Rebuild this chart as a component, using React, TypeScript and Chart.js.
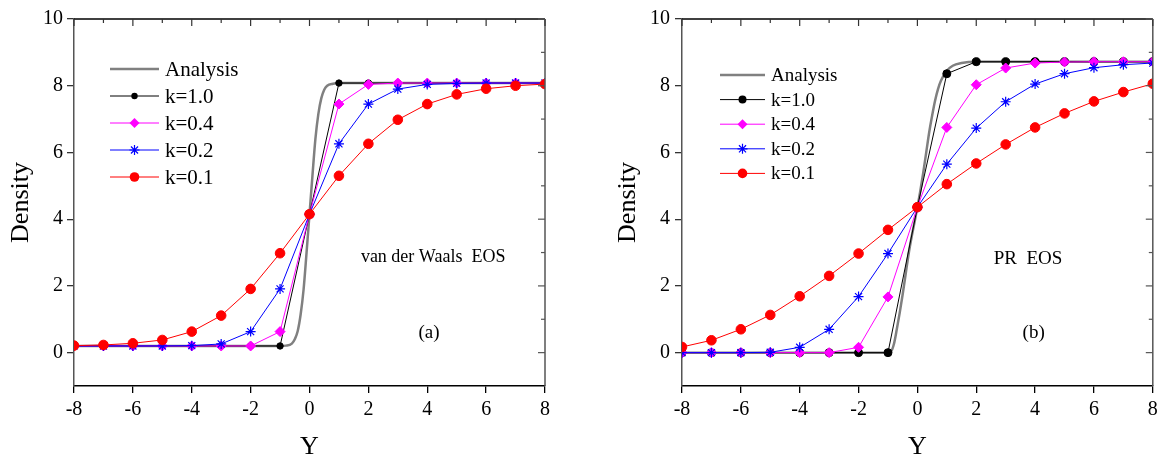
import React, { useEffect, useRef } from 'react';
import { Chart, registerables } from 'chart.js';

Chart.register(...registerables);

// ---------- data ----------
const X_TICKS = [-8, -6, -4, -2, 0, 2, 4, 6, 8];
const Y_TICKS = [0, 2, 4, 6, 8, 10];
const K_X = [-8, -7, -6, -5, -4, -3, -2, -1, 0, 1, 2, 3, 4, 5, 6, 7, 8];
const SERIES_LABELS = ['Analysis', 'k=1.0', 'k=0.4', 'k=0.2', 'k=0.1'];

// Panel (a): van der Waals EOS
const A_ANALYSIS_X = [-8, -1, -0.8, -0.6, -0.5, -0.4, -0.3, -0.2, -0.1, 0, 0.1, 0.2, 0.3, 0.4, 0.5, 0.6, 0.8, 1, 8];
const A_ANALYSIS_Y = [0.2, 0.2, 0.21, 0.27, 0.4, 0.65, 1.15, 1.9, 3.0, 4.15, 5.3, 6.4, 7.15, 7.62, 7.88, 8.0, 8.06, 8.08, 8.08];
const A_K10 = [0.2, 0.2, 0.2, 0.2, 0.2, 0.2, 0.2, 0.2, 4.15, 8.08, 8.08, 8.08, 8.08, 8.08, 8.08, 8.08, 8.08];
const A_K04 = [0.2, 0.2, 0.2, 0.2, 0.2, 0.2, 0.2, 0.63, 4.15, 7.45, 8.04, 8.08, 8.08, 8.08, 8.08, 8.08, 8.08];
const A_K02 = [0.2, 0.2, 0.2, 0.2, 0.21, 0.26, 0.63, 1.91, 4.15, 6.26, 7.45, 7.9, 8.04, 8.07, 8.08, 8.08, 8.08];
const A_K01 = [0.21, 0.23, 0.28, 0.38, 0.63, 1.11, 1.91, 2.98, 4.15, 5.3, 6.26, 6.98, 7.45, 7.74, 7.91, 8.0, 8.05];

// Panel (b): PR EOS
const B_ANALYSIS_X = [-8, -1, -0.9, -0.8, -0.7, -0.6, -0.5, -0.4, -0.3, -0.2, -0.1, 0, 0.1, 0.2, 0.3, 0.4, 0.5, 0.6, 0.7, 0.8, 1.0, 1.2, 1.5, 2, 8];
const B_ANALYSIS_Y = [0, 0, 0.03, 0.25, 0.7, 1.2, 1.75, 2.35, 2.95, 3.45, 3.9, 4.36, 4.85, 5.4, 6.0, 6.6, 7.1, 7.55, 7.9, 8.15, 8.45, 8.6, 8.68, 8.72, 8.72];
const B_K10 = [0, 0, 0, 0, 0, 0, 0, 0, 4.36, 8.36, 8.72, 8.72, 8.72, 8.72, 8.72, 8.72, 8.72];
const B_K04 = [0, 0, 0, 0, 0, 0, 0.16, 1.67, 4.36, 6.75, 8.03, 8.53, 8.68, 8.71, 8.72, 8.72, 8.72];
const B_K02 = [0, 0, 0, 0.01, 0.16, 0.7, 1.68, 2.97, 4.36, 5.65, 6.73, 7.52, 8.05, 8.36, 8.54, 8.63, 8.68];
const B_K01 = [0.17, 0.37, 0.7, 1.13, 1.69, 2.3, 2.97, 3.68, 4.36, 5.05, 5.67, 6.24, 6.75, 7.17, 7.53, 7.81, 8.06];

// ---------- styling ----------
const FONT = '"Liberation Serif", "Times New Roman", serif';

type Panel = {
  left: number;
  width: number;
  padLeft: number;
  yAxisWidth: number;
  padRight: number;
  analysisX: number[];
  analysisY: number[];
  k10: number[];
  k04: number[];
  k02: number[];
  k01: number[];
  blackRadius: number;
  legend: { x0: number; x1: number; textX: number; y0: number; step: number; size: number };
  notes: { text: string; x: number; y: number; size: number }[];
  yTickPad: number;
};

const PANELS: Panel[] = [
  {
    left: 0,
    width: 580,
    padLeft: 0,
    yAxisWidth: 74,
    padRight: 35,
    analysisX: A_ANALYSIS_X,
    analysisY: A_ANALYSIS_Y,
    k10: A_K10,
    k04: A_K04,
    k02: A_K02,
    k01: A_K01,
    blackRadius: 3.2,
    legend: { x0: 110, x1: 159, textX: 165, y0: 69, step: 27, size: 21 },
    notes: [
      { text: 'van der Waals  EOS', x: 4.2, y: 2.85, size: 18 },
      { text: '(a)', x: 4.06, y: 0.6, size: 19 },
    ],
    yTickPad: 4,
  },
  {
    left: 580,
    width: 579,
    padLeft: 27,
    yAxisWidth: 75,
    padRight: 4,
    analysisX: B_ANALYSIS_X,
    analysisY: B_ANALYSIS_Y,
    k10: B_K10,
    k04: B_K04,
    k02: B_K02,
    k01: B_K01,
    blackRadius: 4,
    legend: { x0: 140, x1: 185, textX: 191, y0: 75, step: 24.6, size: 19 },
    notes: [
      { text: 'PR  EOS', x: 3.76, y: 2.8, size: 19 },
      { text: '(b)', x: 3.95, y: 0.6, size: 19 },
    ],
    yTickPad: 5,
  },
];

function drawMarker(ctx: CanvasRenderingContext2D, style: string, x: number, y: number, r: number, color: string) {
  ctx.save();
  ctx.fillStyle = color;
  ctx.strokeStyle = color;
  ctx.lineWidth = 1.2;
  if (style === 'circle') {
    ctx.beginPath();
    ctx.arc(x, y, r, 0, Math.PI * 2);
    ctx.fill();
  } else if (style === 'rectRot') {
    ctx.beginPath();
    ctx.moveTo(x, y - r);
    ctx.lineTo(x + r, y);
    ctx.lineTo(x, y + r);
    ctx.lineTo(x - r, y);
    ctx.closePath();
    ctx.fill();
  } else if (style === 'star') {
    ctx.beginPath();
    ctx.moveTo(x - r, y);
    ctx.lineTo(x + r, y);
    ctx.moveTo(x, y - r);
    ctx.lineTo(x, y + r);
    const d = r * Math.SQRT1_2;
    ctx.moveTo(x - d, y - d);
    ctx.lineTo(x + d, y + d);
    ctx.moveTo(x - d, y + d);
    ctx.lineTo(x + d, y - d);
    ctx.stroke();
  }
  ctx.restore();
}

const decorPlugin = {
  id: 'panelDecor',
  afterDatasetsDraw(chart: any, _args: any, opts: any) {
    const cfg: Panel = opts.cfg;
    if (!cfg) return;
    const { ctx, chartArea } = chart;
    const xs = chart.scales.x;
    const ys = chart.scales.y;
    const { left, right, top, bottom } = chartArea;
    ctx.save();
    // top and right frame
    ctx.lineWidth = 1.5;
    ctx.strokeStyle = '#000';
    ctx.beginPath();
    ctx.moveTo(left, top);
    ctx.lineTo(right, top);
    ctx.stroke();
    ctx.strokeStyle = '#555';
    ctx.beginPath();
    ctx.moveTo(right, top);
    ctx.lineTo(right, bottom);
    ctx.stroke();
    // inward ticks on top
    ctx.lineWidth = 1.2;
    ctx.strokeStyle = '#333';
    for (let v = xs.min; v <= xs.max; v += 1) {
      const px = xs.getPixelForValue(v);
      const len = v % 2 === 0 ? 7 : 4;
      ctx.beginPath();
      ctx.moveTo(px, top);
      ctx.lineTo(px, top + len);
      ctx.stroke();
    }
    // inward ticks on right
    ctx.strokeStyle = '#555';
    for (let v = 0; v <= ys.max; v += 1) {
      const py = ys.getPixelForValue(v);
      const len = v % 2 === 0 ? 7 : 4;
      ctx.beginPath();
      ctx.moveTo(right, py);
      ctx.lineTo(right - len, py);
      ctx.stroke();
    }
    // notes
    ctx.fillStyle = '#000';
    ctx.textAlign = 'center';
    ctx.textBaseline = 'middle';
    for (const n of cfg.notes) {
      ctx.font = `${n.size}px ${FONT}`;
      ctx.fillText(n.text, xs.getPixelForValue(n.x), ys.getPixelForValue(n.y));
    }
    // legend
    const lg = cfg.legend;
    chart.data.datasets.forEach((ds: any, i: number) => {
      const y = lg.y0 + i * lg.step;
      ctx.strokeStyle = ds.borderColor;
      ctx.lineWidth = ds.borderWidth;
      ctx.beginPath();
      ctx.moveTo(lg.x0, y);
      ctx.lineTo(lg.x1, y);
      ctx.stroke();
      if (ds.pointRadius > 0) {
        drawMarker(ctx, ds.pointStyle, (lg.x0 + lg.x1) / 2, y, ds.pointRadius, ds.pointBackgroundColor);
      }
      ctx.fillStyle = '#000';
      ctx.textAlign = 'left';
      ctx.textBaseline = 'middle';
      ctx.font = `${lg.size}px ${FONT}`;
      ctx.fillText(ds.label, lg.textX, y + 1);
    });
    ctx.restore();
  },
};

function toPoints(xs: number[], ys: number[]) {
  return xs.map((x, i) => ({ x, y: ys[i] }));
}

function PanelChart({ cfg }: { cfg: Panel }) {
  const ref = useRef<HTMLCanvasElement>(null);
  useEffect(() => {
    const canvas = ref.current;
    if (!canvas) return;
    const mk = (label: string, data: number[], color: string, style: string, r: number, order: number) => ({
      label,
      data: toPoints(K_X, data),
      borderColor: color,
      backgroundColor: color,
      pointBackgroundColor: color,
      pointBorderColor: color,
      pointStyle: style,
      pointRadius: r,
      pointBorderWidth: style === 'star' ? 1.2 : 1,
      borderWidth: 1,
      tension: 0,
      order,
    });
    const chart = new Chart(canvas, {
      type: 'line',
      data: {
        datasets: [
          {
            label: SERIES_LABELS[0],
            data: toPoints(cfg.analysisX, cfg.analysisY),
            borderColor: '#808080',
            backgroundColor: '#808080',
            pointBackgroundColor: '#808080',
            borderWidth: 2.5,
            pointRadius: 0,
            cubicInterpolationMode: 'monotone',
            order: 5,
          } as any,
          mk(SERIES_LABELS[1], cfg.k10, '#000000', 'circle', cfg.blackRadius, 4),
          mk(SERIES_LABELS[2], cfg.k04, '#ff00ff', 'rectRot', 5, 3),
          mk(SERIES_LABELS[3], cfg.k02, '#0000ff', 'star', 5, 2),
          mk(SERIES_LABELS[4], cfg.k01, '#ff0000', 'circle', 4.8, 1),
        ],
      },
      options: {
        responsive: false,
        animation: false,
        devicePixelRatio: 1,
        events: [],
        layout: { padding: { left: cfg.padLeft, top: 19, right: cfg.padRight, bottom: 0 } },
        plugins: {
          legend: { display: false },
          tooltip: { enabled: false },
          panelDecor: { cfg },
        } as any,
        scales: {
          x: {
            type: 'linear',
            min: -8,
            max: 8,
            afterBuildTicks: (s: any) => {
              s.ticks = X_TICKS.map((v) => ({ value: v }));
            },
            afterFit: (s: any) => {
              s.height = 73;
              s.paddingLeft = 0;
              s.paddingRight = 0;
            },
            border: { display: true, color: '#000', width: 1.5 },
            grid: { display: true, drawOnChartArea: false, drawTicks: true, tickLength: 7, color: '#000', lineWidth: 1.3 },
            ticks: {
              color: '#000',
              font: { family: FONT, size: 20 },
              padding: 5,
              maxRotation: 0,
              autoSkip: false,
              callback: (v: any) => String(v),
            },
            title: { display: true, text: 'Y', color: '#000', font: { family: FONT, size: 26, lineHeight: 0.9 }, padding: 0 },
          },
          y: {
            type: 'linear',
            min: -1,
            max: 10,
            afterBuildTicks: (s: any) => {
              s.ticks = Y_TICKS.map((v) => ({ value: v }));
            },
            afterFit: (s: any) => {
              s.width = cfg.yAxisWidth;
              s.paddingTop = 0;
              s.paddingBottom = 0;
            },
            border: { display: true, color: '#555', width: 1.5 },
            grid: { display: true, drawOnChartArea: false, drawTicks: true, tickLength: 7, color: '#333', lineWidth: 1.3 },
            ticks: {
              color: '#000',
              font: { family: FONT, size: 20 },
              padding: cfg.yTickPad,
              autoSkip: false,
              callback: (v: any) => String(v),
            },
            title: { display: true, text: 'Density', color: '#000', font: { family: FONT, size: 26 }, padding: { top: 6, bottom: 0 } },
          },
        },
      } as any,
      plugins: [decorPlugin],
    });
    return () => chart.destroy();
  }, [cfg]);
  return (
    <canvas
      ref={ref}
      width={cfg.width}
      height={459}
      style={{ position: 'absolute', left: cfg.left, top: 0, width: cfg.width, height: 459 }}
    />
  );
}

export default function App() {
  return (
    <div style={{ position: 'fixed', left: 0, top: 0, width: 1159, height: 459, background: '#fff', overflow: 'hidden' }}>
      {PANELS.map((p, i) => (
        <PanelChart key={i} cfg={p} />
      ))}
    </div>
  );
}
